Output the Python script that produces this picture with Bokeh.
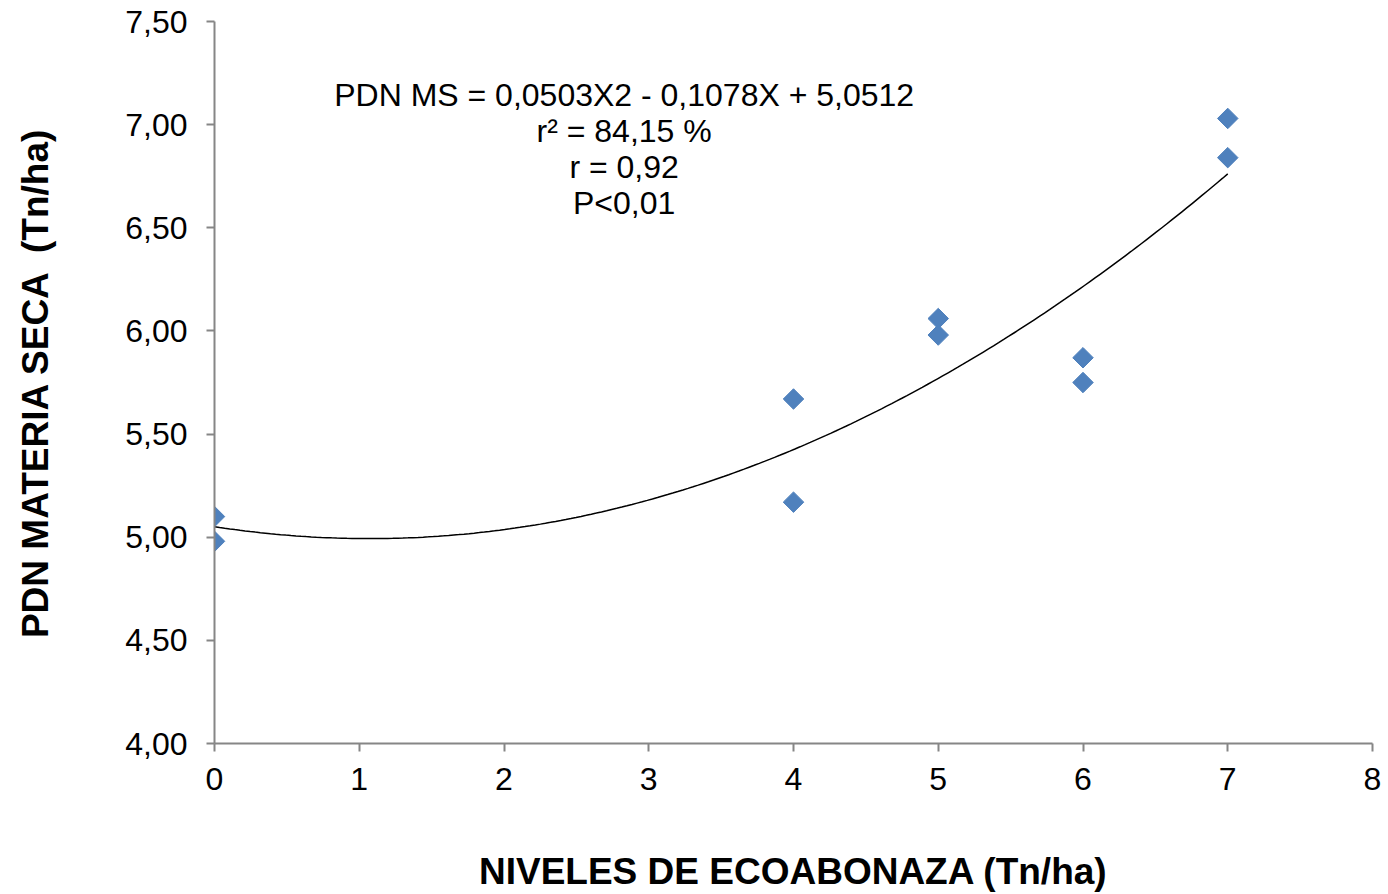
import numpy as np
from bokeh.plotting import figure
from bokeh.models import ColumnDataSource, CustomJSTickFormatter, FixedTicker, Label, Range1d
from bokeh.embed import file_html
from bokeh.resources import INLINE

# Observed data
niveles = [0, 0, 4, 4, 5, 5, 6, 6, 7, 7]
pdn_ms = [5.10, 4.98, 5.67, 5.17, 6.06, 5.98, 5.87, 5.75, 7.03, 6.84]

# Fitted equation coefficients (from the chart's equation)
coef_a = 0.0503
coef_b = -0.1078
coef_c = 5.0512

annot_lines = ["PDN MS = 0,0503X2 - 0,1078X + 5,0512", "r² = 84,15 %", "r = 0,92", "P<0,01"]
x_ticks = [0, 1, 2, 3, 4, 5, 6, 7, 8]
y_ticks = [4.0, 4.5, 5.0, 5.5, 6.0, 6.5, 7.0, 7.5]

FONT = "Liberation Sans"
AXIS_COLOR = "#868686"

p = figure(width=1388, height=894, output_backend="svg", toolbar_location=None,
           x_range=Range1d(0, 8), y_range=Range1d(4.0, 7.5),
           min_border_left=214, min_border_right=16, min_border_top=21, min_border_bottom=150)
p.outline_line_color = None
p.xgrid.visible = False
p.ygrid.visible = False

# fitted curve
xs = np.linspace(0, 7, 200)
ys = coef_a * xs ** 2 + coef_b * xs + coef_c
p.line(xs, ys, line_color="black", line_width=1.5)

src = ColumnDataSource(dict(x=niveles, y=pdn_ms))
p.scatter("x", "y", source=src, marker="square", angle=np.pi / 4, size=14.5,
          fill_color="#4F81BD", line_color="#4F81BD", line_width=1)

# axes
for ax in (p.xaxis[0], p.yaxis[0]):
    ax.axis_line_color = AXIS_COLOR
    ax.axis_line_width = 2
    ax.major_tick_line_color = AXIS_COLOR
    ax.major_tick_line_width = 2
    ax.major_tick_out = 8
    ax.major_tick_in = 0
    ax.minor_tick_line_color = None
    ax.major_label_text_font = FONT
    ax.major_label_text_font_size = "32px"
    ax.major_label_text_color = "black"
    ax.axis_label_text_font = FONT
    ax.axis_label_text_font_size = "37px"
    ax.axis_label_text_font_style = "bold"
    ax.axis_label_text_color = "black"

p.xaxis[0].ticker = FixedTicker(ticks=x_ticks)
p.yaxis[0].ticker = FixedTicker(ticks=y_ticks)
p.xaxis[0].formatter = CustomJSTickFormatter(code="return tick.toFixed(0);")
p.yaxis[0].formatter = CustomJSTickFormatter(code="return tick.toFixed(2).replace('.', ',');")
p.xaxis[0].major_label_standoff = 16
p.yaxis[0].major_label_standoff = 19
p.xaxis[0].axis_label = "NIVELES DE ECOABONAZA (Tn/ha)"
p.yaxis[0].axis_label = "PDN MATERIA SECA \u00a0(Tn/ha)"
p.xaxis[0].axis_label_standoff = 58
p.yaxis[0].axis_label_standoff = 66

# annotation text
line_y0 = 7.145
dy = 0.175
for i, t in enumerate(annot_lines):
    p.add_layout(Label(x=2.83, y=line_y0 - i * dy, text=t, text_align="center",
                       text_baseline="middle", text_font=FONT, text_font_size="32px",
                       text_color="black"))

open("out.html", "w").write(file_html(p, INLINE))
